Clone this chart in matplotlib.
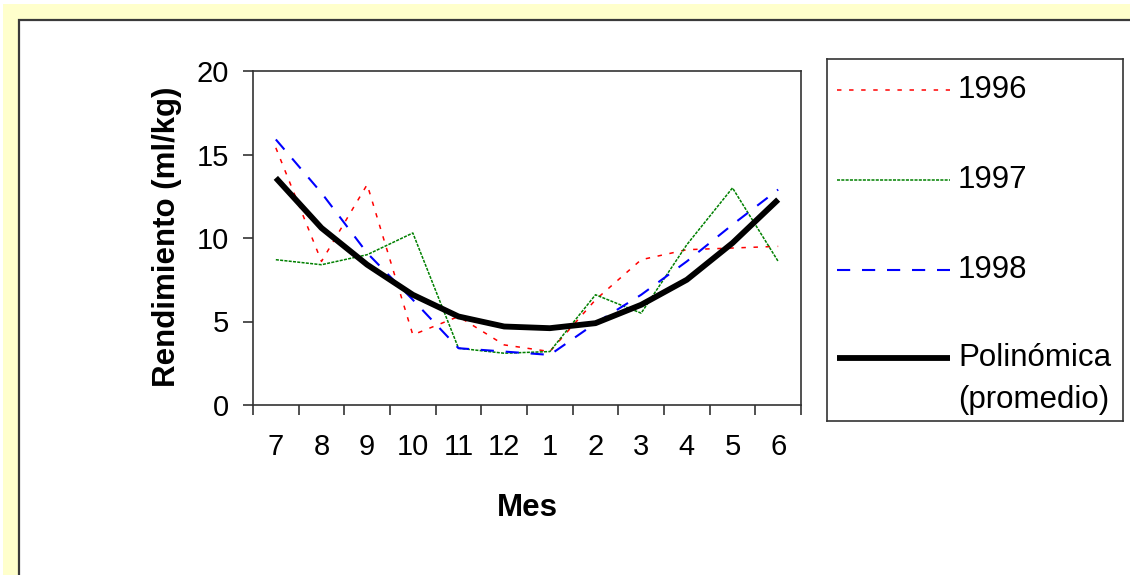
import matplotlib.pyplot as plt
import numpy as np
from matplotlib.lines import Line2D
from matplotlib.patches import Rectangle

plt.rcParams['font.family'] = ['Liberation Sans', 'DejaVu Sans']
plt.rcParams['lines.scale_dashes'] = False

# months from July to June
months = ['7', '8', '9', '10', '11', '12', '1', '2', '3', '4', '5', '6']

y1996 = [15.4, 8.6, 13.2, 4.2, 5.3, 3.6, 3.2, 6.3, 8.7, 9.3, 9.4, 9.5]
y1997 = [8.7, 8.4, 9.0, 10.3, 3.4, 3.1, 3.2, 6.6, 5.5, 9.6, 13.0, 8.6]
y1998 = [15.9, 12.7, 9.1, 6.3, 3.4, 3.2, 3.0, 4.9, 6.6, 8.6, 10.8, 12.9]
# polynomial trend of the yearly average
trend = [13.6, 10.6, 8.4, 6.6, 5.3, 4.7, 4.6, 4.9, 6.0, 7.5, 9.7, 12.3]

series = [
    ('1996', y1996, dict(color='#ff0000', lw=1.1, dashes=(3.2, 5.5))),
    ('1997', y1997, dict(color='#008000', lw=1.1, dashes=(2.2, 0.9))),
    ('1998', y1998, dict(color='#0000ff', lw=1.5, dashes=(9.5, 8.5))),
    ('Polinómica', trend, dict(color='#000000', lw=4.2, solid_joinstyle='round',
                               solid_capstyle='butt')),
]

W, H = 1130, 575
fig = plt.figure(figsize=(W / 100, H / 100), dpi=100)
fig.patch.set_facecolor('white')

# cream frame and white chart panel
fig.add_artist(Rectangle((3 / W, -0.1), 1.1, 1.1 - 4 / H, transform=fig.transFigure,
                         facecolor='#ffffcc', edgecolor='none', zorder=-20))
fig.add_artist(Rectangle((19 / W, -0.1), 1.1, 1.1 - 20 / H, transform=fig.transFigure,
                         facecolor='white', edgecolor='#3a3a3a', lw=1.6, zorder=-10))

ax = fig.add_axes([253 / W, (H - 405) / H, 548 / W, 334 / H])
x = np.arange(len(months))
for label, vals, style in series:
    ax.plot(x, vals, **style)

ax.set_xlim(-0.5, len(months) - 0.5)
ax.set_ylim(0, 20)
ax.set_yticks([0, 5, 10, 15, 20])
ax.set_xticks(np.arange(-0.5, len(months), 1))
ax.set_xticklabels([])
ax.set_xticks(x, minor=True)
ax.set_xticklabels(months, minor=True)
for s in ax.spines.values():
    s.set_color('#333333')
    s.set_linewidth(1.2)
ax.tick_params(axis='both', which='major', direction='out', length=7.2, width=1.2,
               color='#333333', labelsize=21)
ax.tick_params(axis='y', pad=10)
ax.tick_params(axis='x', which='minor', length=0, pad=20, labelsize=21)

ax.set_xlabel('Mes', fontsize=22.5, fontweight='bold')
ax.xaxis.set_label_coords(0.5, -0.262)
ax.set_ylabel('Rendimiento (ml/kg)', fontsize=22.5, fontweight='bold')
ax.yaxis.set_label_coords(-0.13, 0.505)

# legend box drawn in pixel units
lax = fig.add_axes([827 / W, (H - 421) / H, 296 / W, 362 / H])
lax.set_xlim(0, 296)
lax.set_ylim(362, 0)
lax.set_xticks([])
lax.set_yticks([])
for s in lax.spines.values():
    s.set_color('#333333')
    s.set_linewidth(1.2)
rows = [31, 121, 211, 299]
for (label, vals, style), yy in zip(series, rows):
    lax.add_line(Line2D([10, 123], [yy, yy], **style))
    lax.text(131, yy, label, fontsize=22.5, va='center', ha='left')
lax.text(131, 341, '(promedio)', fontsize=22.5, va='center', ha='left')

fig.savefig('out.png', dpi=100)
